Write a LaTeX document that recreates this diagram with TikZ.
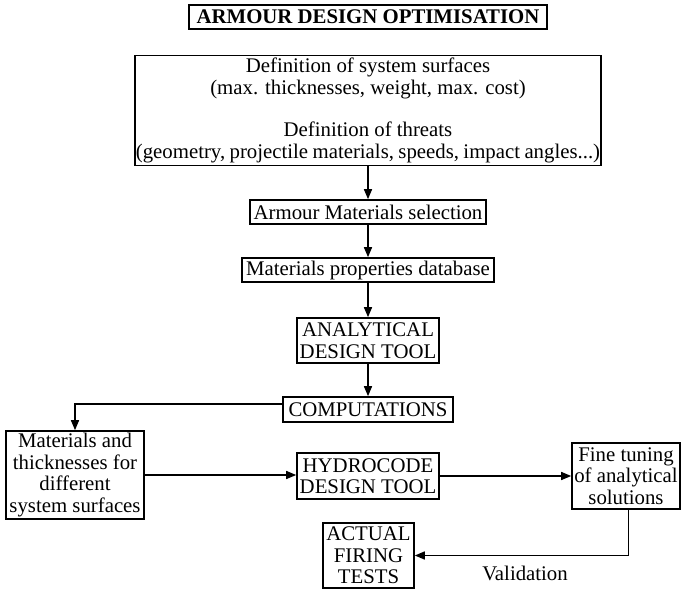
\documentclass[tikz,border=0pt]{standalone}
\usepackage{fontspec}
\setmainfont{Liberation Serif}
\usetikzlibrary{arrows.meta}
\newcommand\dgfont{\fontsize{15.6}{16.1}\selectfont}
\begin{document}
\begin{tikzpicture}[x=0.75pt,y=-0.75pt,
  box/.style={draw, line width=1.2pt, inner sep=0.8pt, align=center, font=\dgfont},
  sz/.style 2 args={minimum width={#1*0.75pt}, minimum height={#2*0.75pt}},
  conn/.style={line width=1.1pt, -{Triangle[length=7.5pt,width=6pt]}}]
\useasboundingbox (0,0) rectangle (681,591);

% title
\node[box, sz={358}{24}, font=\dgfont\bfseries] (title) at (368,17) {ARMOUR DESIGN OPTIMISATION};

% requirements box, framed tightly round its longest line
\node[box, sz={466}{110}] (defs) at (368,110.5)
  {Definition of system surfaces\\(max. thicknesses, weight, max. cost)\\[16pt]Definition of threats\\{\spaceskip=3.3pt plus 1pt minus 1pt\relax (geometry, projectile materials, speeds, impact angles...)}};

% main chain
\node[box, sz={236}{24}] (armour) at (368,212) {Armour Materials selection};
\node[box, sz={252}{24}] (props) at (368,270) {Materials properties database};
\node[box, sz={142}{45}] (analytical) at (368,340.5) {ANALYTICAL\\DESIGN TOOL};
\node[box, sz={170}{25}] (comp) at (368,409.5) {COMPUTATIONS};

% lower row
\node[box, sz={138}{88}] (mats) at (75,475) {Materials and\\thicknesses for\\different\\system surfaces};
\node[box, sz={142}{46}] (hydro) at (368,476) {HYDROCODE\\DESIGN TOOL};
\node[box, sz={108}{66}] (fine) at (626,476) {Fine tuning\\of analytical\\solutions};
\node[box, sz={91}{65}] (actual) at (368.5,555.5) {ACTUAL\\FIRING\\TESTS};
\node[font=\dgfont, inner sep=0pt] (val) at (525,573) {Validation};

% connectors
\draw[conn] (defs.south) -- (armour.north);
\draw[conn] (armour.south) -- (props.north);
\draw[conn] (props.south) -- (analytical.north);
\draw[conn] (analytical.south) -- (comp.north);
\draw[conn] ([yshift=4pt]comp.west) -| (mats.north);
\draw[conn] (mats.east) -- (hydro.west |- mats.east);
\draw[conn] (hydro.east) -- (fine.west |- hydro.east);
\draw[conn] ([xshift=2pt]fine.south) |- (actual.east);
\end{tikzpicture}
\end{document}
